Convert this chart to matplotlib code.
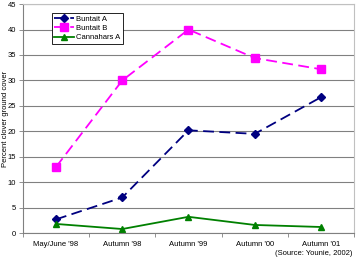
import matplotlib.pyplot as plt
import numpy as np

plt.rcParams['font.family'] = ['Liberation Sans', 'DejaVu Sans']

categories = ["May/June '98", "Autumn '98", "Autumn '99", "Autumn '00", "Autumn '01"]
buntait_a = [2.7, 7.0, 20.2, 19.5, 26.7]
buntait_b = [13.0, 30.0, 40.0, 34.4, 32.2]
cannahars_a = [1.8, 0.8, 3.2, 1.6, 1.2]

fig = plt.figure(figsize=(3.58, 2.57), dpi=100)
ax = fig.add_axes([0.064, 0.093, 0.925, 0.891])

x = np.arange(len(categories))
ax.plot(x, buntait_a, color="#000080", lw=1.3, dashes=(6, 3), marker="D", ms=4,
        label="Buntait A")
ax.plot(x, buntait_b, color="#FF00FF", lw=1.3, dashes=(6, 3), marker="s", ms=6,
        label="Buntait B")
ax.plot(x, cannahars_a, color="#008000", lw=1.3, marker="^", ms=5,
        label="Cannahars A")

ax.set_xlim(-0.5, 4.5)
ax.set_ylim(0, 45)
ax.set_yticks(np.arange(0, 46, 5))
ax.set_xticks(x)
ax.set_xticklabels(categories)
ax.set_xticks(np.arange(-0.5, 5, 1), minor=True)
ax.tick_params(axis="x", which="major", length=0, pad=6, labelsize=5.5)
ax.tick_params(axis="x", which="minor", length=3, width=0.6, color="#808080")
ax.tick_params(axis="y", length=3, width=0.6, color="#808080", labelsize=5.5, pad=2)
ax.yaxis.grid(True, color="#808080", lw=0.8)
ax.set_axisbelow(True)
for side in ["top", "right"]:
    ax.spines[side].set_color("#c0c0c0")
for side in ["left", "bottom"]:
    ax.spines[side].set_color("#808080")
ax.set_ylabel("Percent clover ground cover", fontsize=5.5)
ax.yaxis.set_label_coords(-0.043, 0.5)

leg = ax.legend(loc="upper left", bbox_to_anchor=(0.088, 0.96), borderaxespad=0,
                fontsize=5.5, frameon=True, fancybox=False, edgecolor="black",
                framealpha=1, handlelength=2.6, borderpad=0.3, labelspacing=0.25,
                handletextpad=0.3)
leg.get_frame().set_linewidth(0.6)

fig.text(0.985, 0.0, "(Source: Younie, 2002)", ha="right", va="bottom", fontsize=5.5)

fig.savefig("out.png", dpi=100)
